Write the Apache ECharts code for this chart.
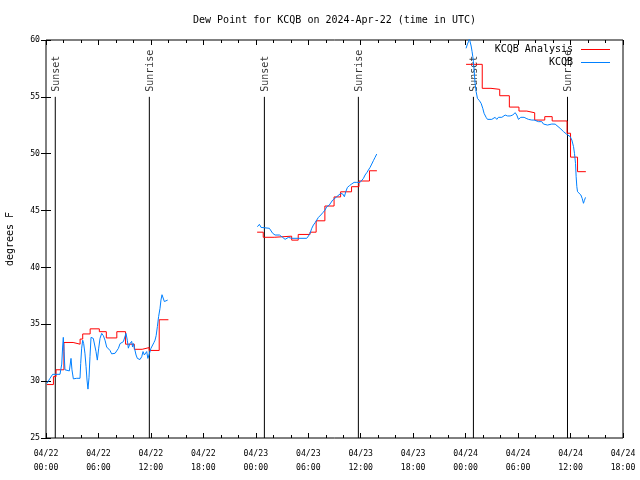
<!DOCTYPE html>
<html><head><meta charset="utf-8">
<script src="https://cdn.jsdelivr.net/npm/echarts@6/dist/echarts.min.js"></script>
<style>html,body{margin:0;padding:0;background:#fff}#c{width:640px;height:480px}</style>
</head><body><div id="c"></div>
<script>
// hours since 2024-04-22 00:00 UTC
const xTickLabels = ["04/22\n00:00","04/22\n06:00","04/22\n12:00","04/22\n18:00","04/23\n00:00","04/23\n06:00","04/23\n12:00","04/23\n18:00","04/24\n00:00","04/24\n06:00","04/24\n12:00","04/24\n18:00"];
const yTicks = [25,30,35,40,45,50,55,60];
const sunTimes = [1.06, 11.82, 24.98, 35.73, 48.89, 59.65];
const sunLabels = ["Sunset","Sunrise","Sunset","Sunrise","Sunset","Sunrise"];
const sunLineTop = 55;

// KCQB Analysis (step values, hour -> deg F)
const analysis1 = [[0.1,29.7],[0.85,30.4],[1.15,31.0],[2.05,33.4],[3.1,33.25],[3.9,33.7],[4.2,34.15],[5.05,34.6],[6.1,34.35],[6.9,33.8],[8.1,34.35],[9.1,33.25],[10.1,32.8],[11.0,32.95],[11.8,32.7],[12.95,35.4],[14.0,35.4]];
const analysis2 = [[24.15,43.1],[24.85,42.65],[26.1,42.75],[28.1,42.4],[28.85,42.9],[30.2,43.1],[30.9,44.1],[31.9,45.4],[32.95,46.2],[33.7,46.65],[34.95,47.1],[35.8,47.6],[37.0,48.5],[37.85,48.5]];
const analysis3 = [[48.05,57.86],[49.9,55.75],[50.9,55.66],[51.9,55.1],[53.0,54.1],[54.1,53.75],[55.0,53.6],[55.9,52.96],[57.05,53.26],[57.9,52.88],[59.6,51.8],[60.0,49.7],[60.8,48.42],[61.75,48.42]];

// KCQB observations (hour -> deg F)
const obs1 = [[0.1,29.8],[0.27,29.95],[0.46,30.25],[0.76,30.6],[1.6,30.6],[1.8,31.5],[1.9,33.0],[1.98,33.85],[2.06,32.6],[2.17,31.0],[2.37,30.9],[2.67,30.9],[2.86,32.0],[2.97,31.0],[3.13,30.2],[3.51,30.25],[3.89,30.25],[3.97,31.56],[4.08,32.9],[4.2,33.6],[4.31,33.3],[4.46,32.4],[4.58,31.3],[4.69,30.1],[4.8,29.3],[4.92,30.3],[5.03,32.15],[5.15,33.85],[5.41,33.76],[5.6,33.6],[5.72,32.6],[5.87,31.85],[6.03,32.9],[6.18,33.76],[6.37,34.2],[6.56,34.0],[6.75,33.6],[6.94,33.0],[7.13,32.9],[7.32,32.7],[7.51,32.4],[7.7,32.38],[7.9,32.45],[8.1,32.6],[8.28,32.88],[8.47,33.3],[8.66,33.47],[8.85,33.47],[9.04,33.6],[9.15,34.2],[9.3,33.6],[9.42,32.9],[9.6,33.3],[9.8,33.5],[9.9,33.0],[10.0,33.3],[10.15,32.8],[10.3,32.3],[10.45,32.0],[10.56,31.85],[10.75,31.9],[10.95,32.15],[11.1,32.6],[11.25,32.3],[11.4,32.2],[11.52,32.6],[11.65,32.0],[11.82,32.4],[12.0,32.88],[12.2,33.0],[12.35,33.4],[12.47,33.6],[12.6,34.0],[12.74,34.8],[12.88,35.67],[13.04,36.4],[13.15,37.13],[13.27,37.6],[13.4,37.5],[13.54,37.0],[13.73,37.0],[13.92,37.13]];
const obs2 = [[24.18,43.58],[24.41,43.79],[24.6,43.52],[24.79,43.44],[25.55,43.44],[25.71,43.29],[25.93,43.0],[26.2,42.85],[26.7,42.85],[26.85,42.76],[27.08,42.64],[27.35,42.47],[27.54,42.41],[27.73,42.64],[27.92,42.64],[28.11,42.56],[29.82,42.56],[30.02,42.76],[30.2,43.0],[30.4,43.44],[30.59,43.73],[30.78,43.93],[30.97,44.17],[31.16,44.4],[31.43,44.61],[31.66,44.81],[31.92,45.05],[32.11,45.34],[32.38,45.46],[32.57,45.63],[32.8,45.93],[32.99,46.07],[33.26,46.22],[33.45,46.28],[33.71,46.51],[33.94,46.46],[34.13,46.22],[34.29,46.66],[34.48,47.04],[34.71,47.19],[34.97,47.34],[35.24,47.48],[35.55,47.48],[35.93,47.48],[36.12,47.63],[36.31,47.83],[36.5,48.13],[36.69,48.33],[36.88,48.57],[37.07,48.8],[37.26,49.09],[37.45,49.39],[37.64,49.68],[37.83,49.97]];
const obs3 = [[48.05,59.27],[48.21,59.65],[48.32,59.85],[48.44,60.2],[48.51,59.85],[48.63,59.47],[48.74,58.97],[48.82,58.53],[48.89,58.1],[48.97,57.36],[49.08,56.19],[49.2,55.46],[49.35,54.87],[49.58,54.66],[49.77,54.43],[49.96,53.99],[50.11,53.55],[50.34,53.2],[50.5,53.02],[50.99,53.02],[51.11,53.02],[51.37,53.2],[51.56,53.02],[51.75,53.2],[51.94,53.32],[52.14,53.2],[52.33,53.32],[52.52,53.4],[52.79,53.32],[53.09,53.32],[53.39,53.4],[53.66,53.61],[53.85,53.4],[54.04,53.02],[54.16,52.91],[54.31,53.2],[54.5,53.32],[54.69,53.2],[54.92,53.11],[55.19,53.02],[55.38,53.02],[55.57,52.96],[55.84,52.96],[56.06,52.91],[56.33,52.82],[56.52,52.96],[56.71,52.82],[56.9,52.61],[57.09,52.52],[57.36,52.52],[57.86,52.61],[58.24,52.6],[58.43,52.52],[58.81,52.23],[59.2,51.94],[59.58,51.7],[59.96,51.5],[60.15,51.2],[60.34,50.62],[60.45,50.03],[60.57,49.15],[60.64,47.98],[60.72,47.1],[60.8,46.66],[61.02,46.6],[61.18,46.37],[61.33,46.07],[61.48,45.64],[61.59,45.9],[61.71,46.16]];

const FONT = "DejaVu Sans Mono";
const sunLineData = [];
sunTimes.forEach(t=>{ sunLineData.push([t,25]); sunLineData.push([t,sunLineTop]); sunLineData.push([t,'-']); });

const chart = echarts.init(document.getElementById('c'), null, {renderer:'canvas'});
const baseX = {
  type:'value', min:0, max:66, interval:6,
  axisLine:{show:false}, splitLine:{show:false},
  axisTick:{show:true, inside:true, length:5, lineStyle:{color:'#000'}},
  minorTick:{show:true, splitNumber:3, length:3, lineStyle:{color:'#000'}},
};
const baseY = {
  type:'value', min:25, max:60, interval:5,
  axisLine:{show:false}, splitLine:{show:false},
  axisTick:{show:true, inside:true, length:5, lineStyle:{color:'#000'}},
};
function stepSeries(name, data, color){
  return {type:'line', name:name, data:data, step:'end', showSymbol:false, symbol:'none', lineStyle:{color:color, width:1}, z:3, silent:true};
}
function lineSeries(name, data, color){
  return {type:'line', name:name, data:data, showSymbol:false, symbol:'none', lineStyle:{color:color, width:1}, z:4, silent:true};
}
chart.setOption({
  animation:false,
  backgroundColor:'#fff',
  grid:{left:46, right:17, top:40, bottom:42, show:true, borderColor:'#000', borderWidth:1, containLabel:false, outerBoundsMode:'none'},
  xAxis:[
    Object.assign({}, baseX, {position:'bottom', axisLabel:{show:true, margin:9, fontFamily:FONT, fontSize:8.2, color:'#000', lineHeight:14, showMinLabel:true, showMaxLabel:true, formatter:(v)=>xTickLabels[Math.round(v/6)]}}),
    Object.assign({}, baseX, {position:'top', axisLabel:{show:false}})
  ],
  yAxis:[
    Object.assign({}, baseY, {position:'left', name:'degrees F', nameLocation:'middle', nameRotate:90, nameGap:31,
      nameTextStyle:{fontFamily:FONT, fontSize:10, color:'#000'},
      axisLabel:{show:true, margin:6, fontFamily:FONT, fontSize:8.2, color:'#000', formatter:(v)=> yTicks.indexOf(v)>=0 ? String(v) : ''}}),
    Object.assign({}, baseY, {position:'right', axisLabel:{show:false}})
  ],
  graphic:[
    {type:'text', x:334.5, y:20, style:{text:'Dew Point for KCQB on 2024-Apr-22 (time in UTC)', font:'10px "DejaVu Sans Mono"', fill:'#000', textAlign:'center', textVerticalAlign:'middle'}},
    {type:'text', x:573, y:49, z:10, style:{text:'KCQB Analysis', font:'10px "DejaVu Sans Mono"', fill:'#000', textAlign:'right', textVerticalAlign:'middle'}},
    {type:'line', z:10, shape:{x1:581, y1:49.5, x2:610, y2:49.5}, style:{stroke:'#ff0000', lineWidth:1}},
    {type:'text', x:573, y:62, z:10, style:{text:'KCQB', font:'10px "DejaVu Sans Mono"', fill:'#000', textAlign:'right', textVerticalAlign:'middle'}},
    {type:'line', z:10, shape:{x1:581, y1:62.5, x2:610, y2:62.5}, style:{stroke:'#0080ff', lineWidth:1}}
  ],
  series:[
    {type:'line', name:'sun', data:sunLineData, showSymbol:false, symbol:'none', lineStyle:{color:'#000', width:1}, silent:true, z:1},
    {type:'scatter', name:'sunlabels', data:sunTimes.map(t=>[t,sunLineTop]), symbolSize:0.1, itemStyle:{color:'transparent'}, silent:true,
      label:{show:true, position:'top', distance:5, rotate:90, align:'left', verticalAlign:'middle', offset:[0,1], fontFamily:FONT, fontSize:10, color:'#000', formatter:(p)=>sunLabels[p.dataIndex]}},
    stepSeries('KCQB Analysis', analysis1, '#ff0000'),
    stepSeries('KCQB Analysis', analysis2, '#ff0000'),
    stepSeries('KCQB Analysis', analysis3, '#ff0000'),
    lineSeries('KCQB', obs1, '#0080ff'),
    lineSeries('KCQB', obs2, '#0080ff'),
    lineSeries('KCQB', obs3, '#0080ff')
  ]
});
</script></body></html>
